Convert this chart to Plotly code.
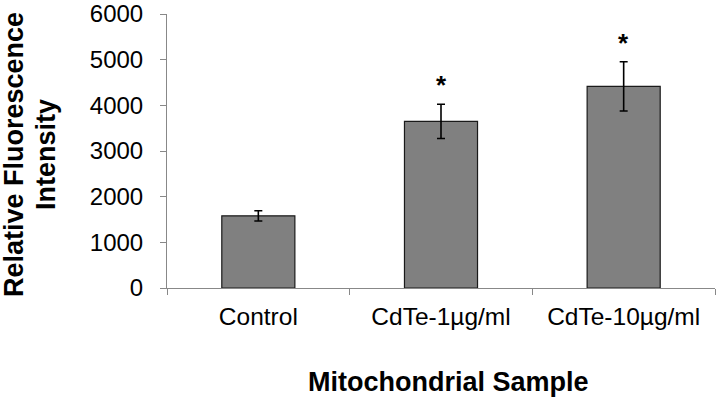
import plotly.graph_objects as go

categories = ["Control", "CdTe-1µg/ml", "CdTe-10µg/ml"]
values = [1580, 3650, 4415]
errors = [112, 375, 540]
significance = ["", "*", "*"]
y_ticks = [0, 1000, 2000, 3000, 4000, 5000, 6000]
y_title_lines = ["Relative Fluorescence", "Intensity"]
x_title = "Mitochondrial Sample"

FONT = "Arial, Liberation Sans, sans-serif"
L_MARGIN = 167

fig = go.Figure()
fig.add_trace(go.Bar(
    x=categories, y=values, width=0.4,
    marker=dict(color="#808080", line=dict(color="#1a1a1a", width=1.2)),
    error_y=dict(type="data", array=errors, visible=True, color="#000000", thickness=1.6, width=4),
    hoverinfo="skip",
))

for c, v, e, s in zip(categories, values, errors, significance):
    if s:
        fig.add_annotation(x=c, y=v + e, text="<b>" + s + "</b>", showarrow=False, yanchor="middle",
                           yshift=19, font=dict(family=FONT, size=26, color="#000"))

# axis titles
for line, cx in zip(y_title_lines, [14, 46]):
    fig.add_annotation(xref="paper", yref="paper", x=0, y=0.5, xshift=cx - L_MARGIN, yshift=-4,
                       xanchor="center", yanchor="middle", textangle=-90, showarrow=False,
                       text="<b>" + line + "</b>", font=dict(family=FONT, size=27, color="#000"))
fig.add_annotation(xref="paper", yref="paper", x=0.5, y=0, xshift=7, yshift=-94, xanchor="center", yanchor="middle",
                   showarrow=False,
                   text="<b>" + x_title + "</b>", font=dict(family=FONT, size=27, color="#000"))

fig.update_layout(
    width=720, height=399,
    margin=dict(l=L_MARGIN, r=5, t=13.5, b=110.7, pad=0, autoexpand=False),
    paper_bgcolor="white", plot_bgcolor="white",
    showlegend=False,
    font=dict(family=FONT, color="#000"),
)
fig.update_xaxes(
    range=[-0.5, 2.5], showline=True, linecolor="#888888", linewidth=1,
    ticks="outside", ticklen=6, tickcolor="#888888", tickson="boundaries",
    tickfont=dict(size=24.5), showgrid=False, automargin=False, ticklabelstandoff=7,
)
fig.update_yaxes(
    range=[0, 6000], tickvals=y_ticks, showline=True, linecolor="#888888", linewidth=1,
    ticks="outside", ticklen=6, tickcolor="#888888", showgrid=False, zeroline=False,
    tickfont=dict(size=24), ticklabelstandoff=12, automargin=False,
)
fig.write_html("out.html", config={"displayModeBar": False},
               post_script="document.body.style.margin='0';document.body.style.padding='0';")
